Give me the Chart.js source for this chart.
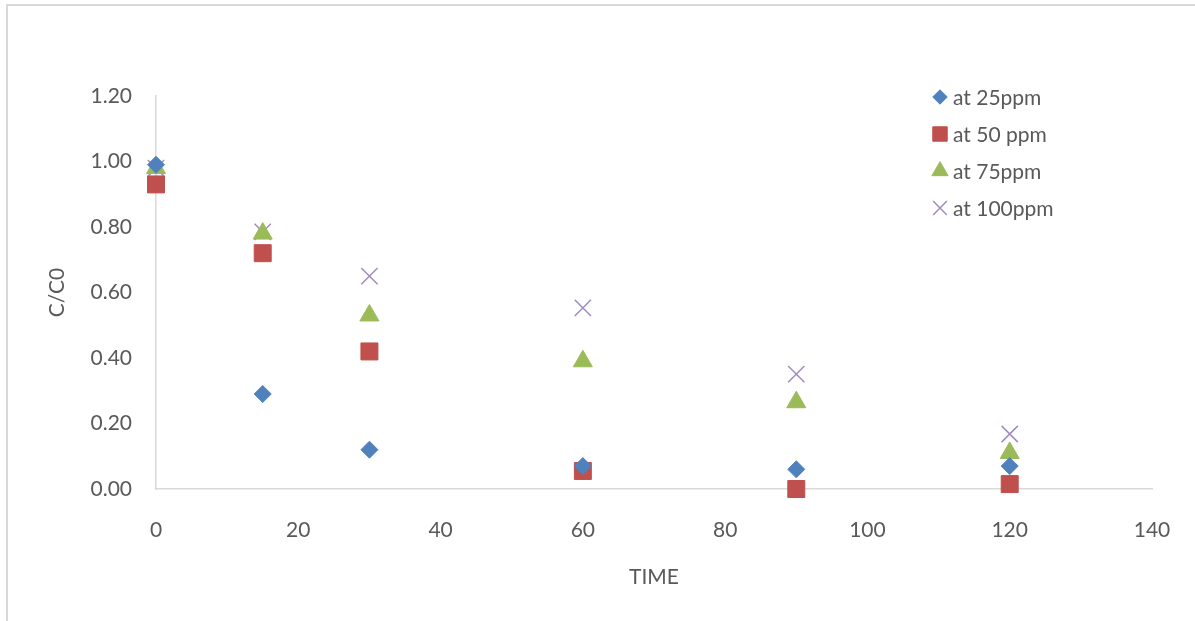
<!DOCTYPE html>
<html>
<head>
<meta charset="utf-8">
<script src="https://cdn.jsdelivr.net/npm/chart.js@4.4.0/dist/chart.umd.min.js"></script>
<style>
    body { margin: 0; background: #fff; overflow: hidden; }
    .frame { position: absolute; left: 6px; top: 4px; width: 1200px; height: 640px; border: 2px solid #d9d9d9; }
    canvas { position: absolute; left: 0; top: 0; }
</style>
</head>
<body>
<div class="frame"></div>
<canvas id="chart" width="1195" height="621"></canvas>
<script>
// Sampling times (min)
const times = [0, 15, 30, 60, 90, 120];
// C/C0 for each concentration
const ppm25 = [0.99, 0.29, 0.12, 0.07, 0.06, 0.07];
const ppm50 = [0.93, 0.72, 0.42, 0.055, 0.0, 0.015];
const ppm75 = [0.98, 0.78, 0.53, 0.39, 0.265, 0.11];
const ppm100 = [0.98, 0.785, 0.65, 0.553, 0.351, 0.168];
const seriesLabels = ['at 25ppm', 'at 50 ppm', 'at 75ppm', 'at 100ppm'];

const textColor = '#595959';
const fontFamily = 'Lato, "Open Sans", sans-serif';

function toPoints(values) {
    return times.map((t, i) => ({ x: t, y: values[i] }));
}

// Legend drawn inside the plot area, like the original
const innerLegend = {
    id: 'innerLegend',
    afterDatasetsDraw(chart) {
        const ctx = chart.ctx;
        ctx.save();
        ctx.font = '21px ' + fontFamily;
        ctx.fillStyle = textColor;
        ctx.textBaseline = 'middle';
        chart.data.datasets.forEach((ds, i) => {
            const y = 97 + i * 37;
            ctx.save();
            ctx.fillStyle = ds.backgroundColor;
            ctx.strokeStyle = ds.borderColor;
            ctx.lineWidth = ds.borderWidth;
            Chart.helpers.drawPoint(ctx, { pointStyle: ds.pointStyle, radius: ds.pointRadius * 0.85, borderWidth: ds.borderWidth }, 940, y);
            ctx.restore();
            ctx.fillText(ds.label, 953, y + 1);
        });
        ctx.restore();
    }
};

new Chart(document.getElementById('chart'), {
    type: 'scatter',
    data: {
        datasets: [
            {
                label: seriesLabels[0],
                data: toPoints(ppm25),
                pointStyle: 'rectRot',
                pointRadius: 8.5,
                backgroundColor: '#4f81bd',
                borderColor: '#4f81bd',
                borderWidth: 1
            },
            {
                label: seriesLabels[1],
                data: toPoints(ppm50),
                pointStyle: 'rect',
                pointRadius: 12,
                backgroundColor: '#c0504d',
                borderColor: '#c0504d',
                borderWidth: 1
            },
            {
                label: seriesLabels[2],
                data: toPoints(ppm75),
                pointStyle: 'triangle',
                pointRadius: 11,
                backgroundColor: '#9bbb59',
                borderColor: '#9bbb59',
                borderWidth: 1
            },
            {
                label: seriesLabels[3],
                data: toPoints(ppm100),
                pointStyle: 'crossRot',
                pointRadius: 11.5,
                backgroundColor: '#a08cc0',
                borderColor: '#a08cc0',
                borderWidth: 1.5
            }
        ]
    },
    options: {
        responsive: false,
        animation: false,
        clip: false,
        layout: {
            padding: { left: 0, top: 96, right: 43, bottom: 0 }
        },
        plugins: {
            legend: { display: false },
            tooltip: { enabled: false }
        },
        scales: {
            x: {
                type: 'linear',
                min: 0,
                max: 140,
                ticks: {
                    stepSize: 20,
                    padding: 29,
                    color: textColor,
                    font: { family: fontFamily, size: 21 }
                },
                grid: { display: false, drawTicks: false },
                border: { color: '#d9d9d9', width: 1.5 },
                title: {
                    display: true,
                    text: 'TIME',
                    color: textColor,
                    font: { family: fontFamily, size: 21 },
                    padding: { top: 31, bottom: 31 }
                },
                afterFit(scale) {
                    scale.height = 132;
                    scale.paddingLeft = 0;
                    scale.paddingRight = 0;
                }
            },
            y: {
                min: 0,
                max: 1.2,
                ticks: {
                    stepSize: 0.2,
                    padding: 24,
                    color: textColor,
                    font: { family: fontFamily, size: 21 },
                    callback: v => v.toFixed(2)
                },
                grid: { display: false, drawTicks: false },
                border: { color: '#d9d9d9', width: 1.5 },
                title: {
                    display: true,
                    text: 'C/C0',
                    color: textColor,
                    font: { family: fontFamily, size: 21 },
                    padding: { top: 45, bottom: 45 }
                },
                afterFit(scale) { scale.width = 156; }
            }
        }
    },
    plugins: [innerLegend]
});
</script>
</body>
</html>
